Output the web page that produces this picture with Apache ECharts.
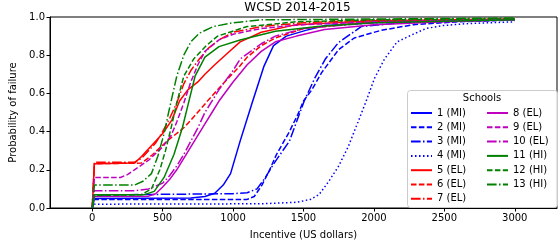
<!DOCTYPE html>
<html><head><meta charset="utf-8">
<script src="https://cdn.jsdelivr.net/npm/echarts@6/dist/echarts.min.js"></script>
<style>html,body{margin:0;padding:0;background:#fff}#c{width:560px;height:245px}</style>
</head><body><div id="c"></div>
<script>
const title = "WCSD 2014-2015";
const xLabel = "Incentive (US dollars)";
const yLabel = "Probability of failure";
const legendTitle = "Schools";
const xTicks = [0, 500, 1000, 1500, 2000, 2500, 3000];
const yTicks = [0, 0.2, 0.4, 0.6, 0.8, 1.0];
const names = ["1 (MI)","2 (MI)","3 (MI)","4 (MI)","5 (EL)","6 (EL)","7 (EL)","8 (EL)","9 (EL)","10 (EL)","11 (HI)","12 (HI)","13 (HI)"];

const s1 = [[0,0],[15,0.05],[700,0.052],[800,0.06],[870,0.077],[930,0.12],[982,0.18],[1050,0.35],[1135,0.55],[1218,0.74],[1287,0.85],[1378,0.9],[1516,0.93],[1655,0.955],[2000,0.97],[2500,0.98],[3000,0.985]];
const s2 = [[0,0],[15,0.045],[1100,0.045],[1150,0.06],[1205,0.12],[1260,0.2],[1308,0.28],[1400,0.4],[1460,0.49],[1500,0.56],[1560,0.62],[1630,0.71],[1750,0.83],[1860,0.89],[2050,0.93],[2280,0.96],[2600,0.975],[3000,0.985]];
const s3 = [[0,0],[15,0.068],[1000,0.075],[1100,0.08],[1170,0.1],[1230,0.16],[1287,0.23],[1400,0.35],[1505,0.56],[1580,0.68],[1655,0.78],[1747,0.865],[1910,0.95],[2200,0.97],[3000,0.985]];
const s4 = [[0,0],[15,0.02],[1200,0.022],[1450,0.03],[1550,0.045],[1610,0.07],[1680,0.14],[1750,0.22],[1817,0.32],[1887,0.45],[1945,0.56],[2005,0.68],[2075,0.78],[2165,0.87],[2280,0.91],[2370,0.94],[2490,0.955],[2650,0.965],[3000,0.975]];
const s5 = [[0,0],[15,0.232],[300,0.235],[350,0.27],[400,0.31],[450,0.35],[500,0.39],[565,0.46],[620,0.56],[680,0.62],[750,0.66],[800,0.7],[870,0.75],[960,0.81],[1050,0.87],[1200,0.92],[1450,0.96],[2000,0.98],[3000,0.99]];
const s6 = [[0,0],[15,0.232],[350,0.235],[430,0.28],[530,0.35],[650,0.42],[700,0.46],[760,0.51],[830,0.57],[940,0.66],[1050,0.745],[1100,0.79],[1200,0.85],[1300,0.89],[1500,0.94],[2000,0.975],[3000,0.99]];
const s7 = [[0,0],[15,0.24],[300,0.24],[350,0.26],[400,0.3],[450,0.34],[500,0.4],[550,0.47],[600,0.55],[650,0.65],[700,0.72],[760,0.78],[830,0.84],[900,0.88],[1000,0.92],[1200,0.95],[1500,0.97],[2000,0.985],[3000,0.99]];
const s8 = [[0,0],[15,0.06],[400,0.062],[450,0.075],[500,0.11],[550,0.15],[600,0.2],[650,0.26],[700,0.32],[750,0.38],[800,0.44],[850,0.5],[900,0.56],[1000,0.66],[1100,0.75],[1200,0.82],[1300,0.87],[1450,0.9],[1650,0.935],[2000,0.96],[2500,0.975],[3000,0.985]];
const s9 = [[0,0],[15,0.16],[200,0.16],[250,0.175],[300,0.2],[400,0.25],[500,0.32],[560,0.38],[600,0.45],[650,0.55],[700,0.66],[750,0.75],[800,0.82],[900,0.88],[1000,0.91],[1200,0.94],[1500,0.96],[2000,0.975],[3000,0.985]];
const s10 = [[0,0],[15,0.09],[300,0.09],[400,0.1],[500,0.13],[550,0.17],[600,0.22],[650,0.28],[700,0.35],[750,0.42],[800,0.5],[850,0.56],[900,0.62],[1000,0.72],[1050,0.78],[1200,0.86],[1300,0.9],[1500,0.94],[2000,0.97],[3000,0.99]];
const s11 = [[0,0],[15,0.07],[370,0.07],[440,0.087],[510,0.16],[580,0.28],[640,0.42],[680,0.54],[730,0.69],[800,0.79],[900,0.845],[1050,0.88],[1300,0.925],[1600,0.95],[2000,0.97],[3000,0.985]];
const s12 = [[0,0],[15,0.065],[350,0.07],[420,0.1],[480,0.2],[520,0.3],[560,0.42],[600,0.55],[650,0.69],[720,0.78],[810,0.85],[890,0.9],[1100,0.95],[1450,0.975],[2000,0.985],[3000,0.99]];
const s13 = [[0,0],[15,0.12],[300,0.12],[360,0.14],[420,0.18],[465,0.27],[510,0.39],[545,0.51],[600,0.69],[650,0.8],[700,0.87],[760,0.915],[860,0.95],[1000,0.97],[1200,0.985],[3000,0.995]];

const allData = [s1,s2,s3,s4,s5,s6,s7,s8,s9,s10,s11,s12,s13];
const colors = ['#0000ff','#0000ff','#0000ff','#0000ff','#ff0000','#ff0000','#ff0000','#bf00bf','#bf00bf','#bf00bf','#008000','#008000','#008000'];
const SOLID='solid', DASH=[5.5,2.4], DASHDOT=[9.6,2.4,1.5,2.4], DOT=[1.5,2.5];
const styles = [SOLID,DASH,DASHDOT,DOT,SOLID,DASH,DASHDOT,SOLID,DASH,DASHDOT,SOLID,DASH,DASHDOT];

const chart = echarts.init(document.getElementById('c'), null, {renderer:'canvas'});
const font = 'DejaVu Sans';
const series = allData.map((d,i)=>({
  name: names[i], type:'line', data:d, symbol:'none', showSymbol:false, animation:false,
  lineStyle:{color:colors[i], width:1.5, type:styles[i], cap:'butt'},
  itemStyle:{color:colors[i]}, z:2
}));
function mkLegend(left, data){
  return {
    orient:'vertical', left:left, top:107, data:data,
    itemWidth:21, itemHeight:10, itemGap:2.3,
    itemStyle:{color:'rgba(0,0,0,0)', borderColor:'rgba(0,0,0,0)', borderWidth:0},
    textStyle:{fontFamily:font, fontSize:10, color:'#000', lineHeight:12},
    z:5, selectedMode:false, padding:0
  };
}
chart.setOption({
  animation:false,
  grid:{left:38, right:3, top:17, bottom:33, show:true, borderColor:'#000', borderWidth:1, backgroundColor:'transparent'},
  xAxis:{type:'value', min:-300, max:3300,
    axisLine:{show:true, onZero:false, lineStyle:{color:'#000', width:1}},
    axisTick:{show:true, inside:false, length:3.5, customValues:xTicks, lineStyle:{color:'#000'}},
    axisLabel:{customValues:xTicks, fontFamily:font, fontSize:10, color:'#000', margin:5, formatter:v=>String(v)},
    splitLine:{show:false},
    name:xLabel, nameLocation:'middle', nameGap:22, nameTextStyle:{fontFamily:font, fontSize:10, color:'#000'}
  },
  yAxis:{type:'value', min:0, max:1, interval:0.2,
    axisLine:{show:true, onZero:false, lineStyle:{color:'#000', width:1}},
    axisTick:{show:true, inside:false, length:3.5, lineStyle:{color:'#000'}},
    axisLabel:{fontFamily:font, fontSize:10, color:'#000', margin:5, formatter:v=>v.toFixed(1)},
    splitLine:{show:false},
    name:yLabel, nameLocation:'middle', nameGap:32, nameTextStyle:{fontFamily:font, fontSize:10, color:'#000'}
  },
  legend:[ mkLegend(410, names.slice(0,7)), mkLegend(486, names.slice(7)) ],
  graphic:[
    {type:'text', z:10, style:{text:title, x:297.5, y:8, textAlign:'center', textVerticalAlign:'middle', font:'12px "DejaVu Sans"', fill:'#000'}},
    {type:'rect', z:3, shape:{x:407.5, y:90.5, width:150, height:117, r:3}, style:{fill:'rgba(255,255,255,0.8)', stroke:'#cccccc', lineWidth:1}},
    {type:'text', z:10, style:{text:legendTitle, x:482, y:98, textAlign:'center', textVerticalAlign:'middle', font:'10px "DejaVu Sans"', fill:'#000'}}
  ],
  series: series
});
</script></body></html>
